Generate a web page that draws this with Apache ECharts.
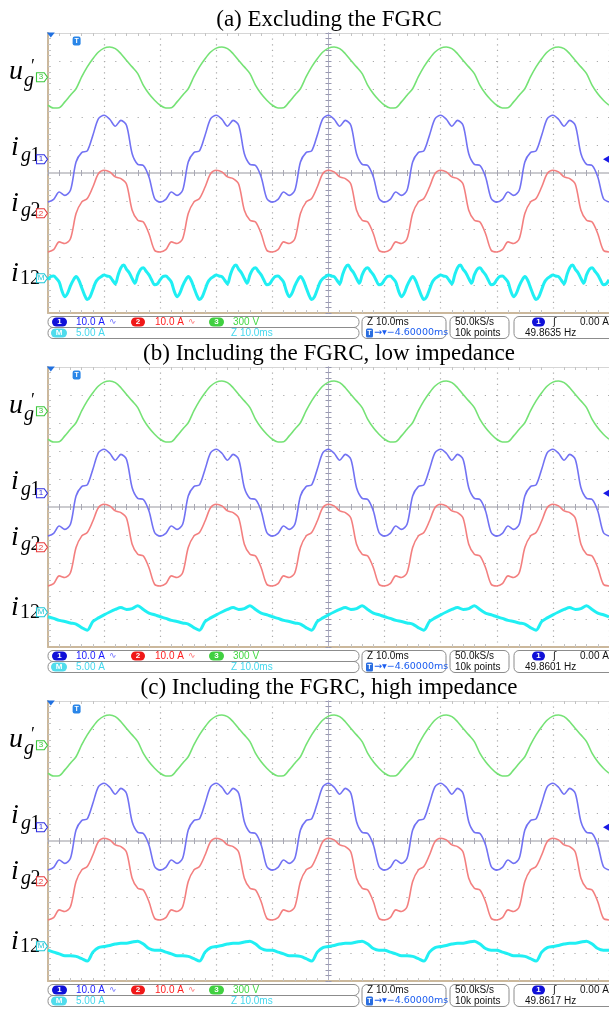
<!DOCTYPE html>
<html>
<head>
<meta charset="utf-8">
<script src="https://cdn.jsdelivr.net/npm/echarts@6/dist/echarts.min.js"></script>
<style>
html,body{margin:0;padding:0;background:#fff;}
#chart{width:609px;height:1009px;}
</style>
</head>
<body>
<div id="chart"></div>
<script>
// scope settings: 10 ms/div horizontally (10 div), 10 div vertically, values in divisions
var PERIOD = 20;

// one mains period, t = -20 .. -1 ms, 1 ms step
var ugPeriod  = [4.46,4.50,4.44,4.26,4.02,3.79,3.55,3.13,2.83,2.60,2.42,2.32,2.33,2.54,2.78,3.01,3.43,3.79,4.08,4.32];
var ig1Period = [2.06,1.92,1.67,1.88,1.70,0.69,0.31,0.27,-0.14,-0.91,-1.04,-0.94,-0.68,-0.80,-0.62,0.39,0.73,0.79,1.35,1.94];
var ig2Period = [0.10,0.04,-0.14,-0.20,-0.40,-1.33,-1.69,-1.75,-2.17,-2.76,-2.82,-2.74,-2.46,-2.52,-2.35,-1.45,-1.04,-0.91,-0.50,-0.02];

// i12, panel (a) 0.5 ms step, panels (b)(c) 1 ms step
var i12aPeriod = [-3.64,-3.68,-3.70,-3.83,-3.96,-3.64,-3.38,-3.29,-3.44,-3.57,-3.77,-3.94,-3.64,-3.44,-3.38,-3.51,-3.64,-3.83,-3.99,-3.96,
                  -3.81,-3.70,-3.68,-3.77,-3.90,-4.22,-4.42,-4.29,-4.03,-3.83,-3.70,-3.83,-4.09,-4.35,-4.52,-4.42,-4.16,-3.90,-3.77,-3.70];
var i12bPeriod = [-3.85,-3.75,-3.66,-3.59,-3.66,-3.63,-3.53,-3.66,-3.79,-3.85,-3.92,-3.98,-4.05,-4.09,-4.14,-4.18,-4.31,-4.40,-4.09,-3.96];
var i12cPeriod = [-3.77,-3.73,-3.68,-3.65,-3.65,-3.61,-3.58,-3.68,-3.84,-3.90,-3.90,-3.97,-4.03,-4.10,-4.10,-4.12,-4.20,-4.29,-3.97,-3.81];

// channel reference levels (div)
var levelUg = 3.42, levelIg1 = 0.49, levelIg2 = -1.44, levelI12 = -3.76;

var titles = ['(a) Excluding the FGRC', '(b) Including the FGRC, low impedance', '(c) Including the FGRC, high impedance'];
var freqs = ['49.8635 Hz', '49.8601 Hz', '49.8617 Hz'];

var panelTop = [33, 367, 701];
var PANEL_STEP = 334;

var GREEN = '#6ee06e', BLUE = '#6a6af2', RED = '#f27878', CYAN = '#14eef2';

function tile(vals, step) {
  var pts = [];
  for (var p = -2; p <= 3; p++) {
    for (var k = 0; k < vals.length; k++) {
      var t = -20 + p * PERIOD + k * step;
      if (t >= -50 && t <= 50) pts.push([t, vals[k]]);
    }
  }
  return pts;
}

function tag(level, txt, color) {
  return {
    coord: [-50, level],
    symbol: 'path://M0,0 L7,0 L10,5 L7,10 L0,10 Z',
    symbolSize: [11, 9],
    symbolOffset: [-6, 0],
    itemStyle: {color: 'rgba(255,255,255,0.85)', borderColor: color, borderWidth: 1},
    label: {show: true, position: 'inside', formatter: txt, color: color, fontSize: 8, fontFamily: 'Liberation Sans', offset: [-1, 0]}
  };
}

function frameX(i, pos, split) {
  return {
    type: 'value', gridIndex: i, position: pos, min: -50, max: 50, interval: 10,
    axisLine: {show: true, onZero: false, lineStyle: {color: pos === 'bottom' ? '#cbb89c' : '#d6d6d6', width: pos === 'bottom' ? 2 : 1}},
    axisTick: {show: false, inside: true},
    minorTick: {show: true, splitNumber: 5, length: 3, lineStyle: {color: '#c4c4c4'}},
    axisLabel: {show: false},
    splitLine: {show: split, lineStyle: {color: '#aaaaaa', width: 1.2, type: [1.2, 4.4]}},
    minorSplitLine: {show: false}
  };
}
function centerX(i, yIdx, inside) {
  return {
    type: 'value', gridIndex: i, position: 'bottom', min: -50, max: 50, interval: 10,
    axisLine: {show: true, onZero: true, onZeroAxisIndex: yIdx, lineStyle: {color: '#c8c8cc', width: 1.5}},
    axisTick: {show: true, inside: inside, length: 3, lineStyle: {color: '#a8a8b4'}},
    minorTick: {show: true, splitNumber: 5, length: 3, lineStyle: {color: '#a8a8b4'}},
    axisLabel: {show: false}, splitLine: {show: false}
  };
}
function frameY(i) {
  return {
    type: 'value', gridIndex: i, position: 'left', min: -5, max: 5, interval: 1,
    axisLine: {show: true, onZero: false, lineStyle: {color: '#cbb89c', width: 2}},
    axisTick: {show: false, inside: true},
    minorTick: {show: true, splitNumber: 5, length: 3, lineStyle: {color: '#c4c4c4'}},
    axisLabel: {show: false},
    splitLine: {show: true, lineStyle: {color: '#aaaaaa', width: 1.2, type: [1.2, 10]}},
    minorSplitLine: {show: false}
  };
}
function centerY(i, xIdx, inside) {
  return {
    type: 'value', gridIndex: i, position: 'left', min: -5, max: 5, interval: 1,
    axisLine: {show: true, onZero: true, onZeroAxisIndex: xIdx, lineStyle: {color: '#b0b0c4', width: 1}},
    axisTick: {show: true, inside: inside, length: 3, lineStyle: {color: '#9898b0'}},
    minorTick: {show: true, splitNumber: 5, length: 3, lineStyle: {color: '#9898b0'}},
    axisLabel: {show: false}, splitLine: {show: false}
  };
}

function trace(i, data, color, width, marks) {
  return {
    type: 'line', xAxisIndex: 4 * i, yAxisIndex: 3 * i, data: data,
    showSymbol: false, symbol: 'none', silent: true, animation: false, smooth: 0.3,
    lineStyle: {color: color, width: width, opacity: 0.95},
    markPoint: {silent: true, animation: false, data: marks}
  };
}

var grids = [], xAxes = [], yAxes = [], series = [], graphics = [];
var i12Sets = [[i12aPeriod, 0.5], [i12bPeriod, 1], [i12cPeriod, 1]];

function txt(x, y, s, opt) {
  opt = opt || {};
  return {
    type: 'text', x: x, y: y, silent: true,
    style: {
      text: s, fill: opt.fill || '#000',
      fontSize: opt.size || 10, fontFamily: opt.family || 'Liberation Sans',
      fontStyle: opt.style || 'normal', fontWeight: opt.weight || 'normal',
      align: opt.align || 'left', verticalAlign: 'middle',
      textAlign: opt.align || 'left', textVerticalAlign: 'middle'
    }
  };
}
function box(x, y, w, h) {
  return {type: 'rect', silent: true, shape: {x: x, y: y, width: w, height: h, r: 5},
          style: {fill: '#fff', stroke: '#8c8c8c', lineWidth: 1}};
}
function pill(x, y, w, color, s) {
  return [
    {type: 'rect', silent: true, shape: {x: x, y: y - 4.5, width: w, height: 9, r: 4.5}, style: {fill: color}},
    txt(x + w / 2, y, s, {fill: '#fff', size: 8, weight: 'bold', align: 'center'})
  ];
}

for (var i = 0; i < 3; i++) {
  var dy = PANEL_STEP * i;
  grids.push({left: 48, top: panelTop[i], width: 561, height: 280, containLabel: false, outerBoundsMode: 'none'});
  xAxes.push(frameX(i, 'bottom', true), frameX(i, 'top', false), centerX(i, 3 * i, false), centerX(i, 3 * i, true));
  yAxes.push(frameY(i), centerY(i, 4 * i, false), centerY(i, 4 * i, true));

  series.push(trace(i, tile(ugPeriod, 1), GREEN, 1.6, [tag(levelUg, '3', '#3cc83c')]));
  series.push(trace(i, tile(ig1Period, 1), BLUE, 1.6, [
    tag(levelIg1, '1', '#3030e0'),
    {coord: [50, levelIg1], symbol: 'path://M10,0 L10,10 L0,5 Z', symbolSize: [6, 7], symbolOffset: [-3, 0], itemStyle: {color: '#1a1ae6'}},
    {coord: [-49.5, 5], symbol: 'path://M0,0 L10,0 L5,7 Z', symbolSize: [8, 5], symbolOffset: [0, 2], itemStyle: {color: '#2070e0'}},
    {coord: [-44.9, 4.71], symbol: 'roundRect', symbolSize: [8, 9], itemStyle: {color: '#2a86e8'},
     label: {show: true, position: 'inside', formatter: 'T', color: '#fff', fontSize: 7, fontWeight: 'bold'}}
  ]));
  series.push(trace(i, tile(ig2Period, 1), RED, 1.6, [tag(levelIg2, '2', '#e83c3c')]));
  series.push(trace(i, tile(i12Sets[i][0], i12Sets[i][1]), CYAN, 3, [tag(levelI12, 'M', '#20c8d8')]));

  // title
  graphics.push(txt(329, 19.5 + dy, titles[i], {size: 23, family: 'Liberation Serif', align: 'center'}));

  // trace labels
  var S = 'Liberation Serif';
  graphics.push(txt(9, 72 + dy, 'u', {size: 28, family: S, style: 'italic'}));
  graphics.push(txt(31, 67 + dy, '\u2032', {size: 18, family: S}));
  graphics.push(txt(24, 81 + dy, 'g', {size: 20, family: S, style: 'italic'}));

  graphics.push(txt(11, 148 + dy, 'i', {size: 28, family: S, style: 'italic'}));
  graphics.push(txt(21, 156 + dy, 'g', {size: 20, family: S, style: 'italic'}));
  graphics.push(txt(30.5, 156 + dy, '1', {size: 20, family: S}));

  graphics.push(txt(11, 204 + dy, 'i', {size: 28, family: S, style: 'italic'}));
  graphics.push(txt(21, 211 + dy, 'g', {size: 20, family: S, style: 'italic'}));
  graphics.push(txt(30.5, 211 + dy, '2', {size: 20, family: S}));

  graphics.push(txt(11, 274 + dy, 'i', {size: 28, family: S, style: 'italic'}));
  graphics.push(txt(20, 279 + dy, '12', {size: 20, family: S}));

  // status bar
  var r1 = 322 + dy, r2 = 333 + dy;
  graphics.push(box(48, 316.5 + dy, 311, 11), box(48, 327.5 + dy, 311, 11));
  graphics.push(box(362, 316.5 + dy, 84, 22), box(450, 316.5 + dy, 59, 22), box(514, 316.5 + dy, 100, 22));
  graphics = graphics.concat(pill(52, r1, 15, '#1010d8', '1'));
  graphics.push(txt(76, r1, '10.0 A', {fill: '#1a1aff'}));
  graphics.push(txt(109, r1, '\u223f', {fill: '#6a6aff', family: 'DejaVu Sans', size: 9}));
  graphics = graphics.concat(pill(131, r1, 14, '#f01818', '2'));
  graphics.push(txt(155, r1, '10.0 A', {fill: '#ff2020'}));
  graphics.push(txt(188, r1, '\u223f', {fill: '#ff7070', family: 'DejaVu Sans', size: 9}));
  graphics = graphics.concat(pill(209, r1, 15, '#40d040', '3'));
  graphics.push(txt(233, r1, '300 V', {fill: '#44d844'}));
  graphics = graphics.concat(pill(51, r2, 16, '#50dcec', 'M'));
  graphics.push(txt(76, r2, '5.00 A', {fill: '#44d8ee'}));
  graphics.push(txt(231, r2, 'Z 10.0ms', {fill: '#44d8ee'}));

  graphics.push(txt(367, r1, 'Z 10.0ms', {fill: '#111'}));
  graphics.push({type: 'rect', silent: true, shape: {x: 366, y: r2 - 4.5, width: 7, height: 9, r: 1.5}, style: {fill: '#2a6ee0'}});
  graphics.push(txt(369.5, r2, 'T', {fill: '#fff', size: 7, weight: 'bold', align: 'center'}));
  graphics.push(txt(374, r2, '\u2192\u25be\u22124.60000ms', {fill: '#1a5cf0', family: 'DejaVu Sans', size: 9.5}));

  graphics.push(txt(455, r1, '50.0kS/s', {fill: '#111'}));
  graphics.push(txt(455, r2, '10k points', {fill: '#111'}));

  graphics = graphics.concat(pill(532, r1, 13, '#1010d8', '1'));
  graphics.push(txt(553, r1, '\u0283', {fill: '#111', family: 'DejaVu Sans', size: 10}));
  graphics.push(txt(580, r1, '0.00 A', {fill: '#111'}));
  graphics.push(txt(525, r2, freqs[i], {fill: '#111'}));
}

var chart = echarts.init(document.getElementById('chart'), null, {renderer: 'canvas'});
chart.setOption({
  backgroundColor: '#ffffff',
  animation: false,
  grid: grids,
  xAxis: xAxes,
  yAxis: yAxes,
  series: series,
  graphic: {elements: graphics}
});
</script>
</body>
</html>
